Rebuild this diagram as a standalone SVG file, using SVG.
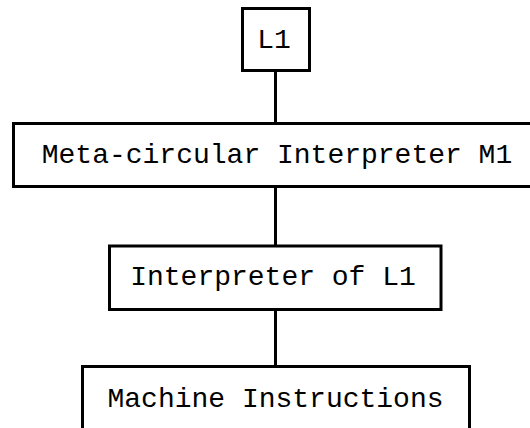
<svg xmlns="http://www.w3.org/2000/svg" width="530" height="428" viewBox="0 0 530 428">
  <style>
    .box { fill: #ffffff; stroke: #000000; stroke-width: 3; }
    .link { stroke: #000000; stroke-width: 3; fill: none; }
    .label { font-family: "Liberation Mono", "Courier New", monospace; font-size: 28px; fill: #000000; text-anchor: middle; }
  </style>
  <rect width="530" height="428" fill="#ffffff"/>

  <!-- vertical links between the levels -->
  <g id="connectors">
    <line class="link" x1="275.5" y1="70" x2="275.5" y2="124"/>
    <line class="link" x1="275.5" y1="186" x2="275.5" y2="246"/>
    <line class="link" x1="275.5" y1="309" x2="275.5" y2="367"/>
  </g>

  <g id="l1">
    <rect class="box" x="242.5" y="8.5" width="67" height="62"/>
    <text class="label" x="274" y="48">L1</text>
  </g>

  <g id="meta-interpreter">
    <rect class="box" x="13.5" y="123.5" width="530" height="63"/>
    <text class="label" x="277" y="163">Meta-circular Interpreter M1</text>
  </g>

  <g id="interpreter">
    <rect class="box" x="109.5" y="246" width="331.5" height="63.5"/>
    <text class="label" x="273" y="285">Interpreter of L1</text>
  </g>

  <g id="machine">
    <rect class="box" x="82.5" y="366.5" width="387" height="80"/>
    <text class="label" x="275.5" y="407">Machine Instructions</text>
  </g>
</svg>
